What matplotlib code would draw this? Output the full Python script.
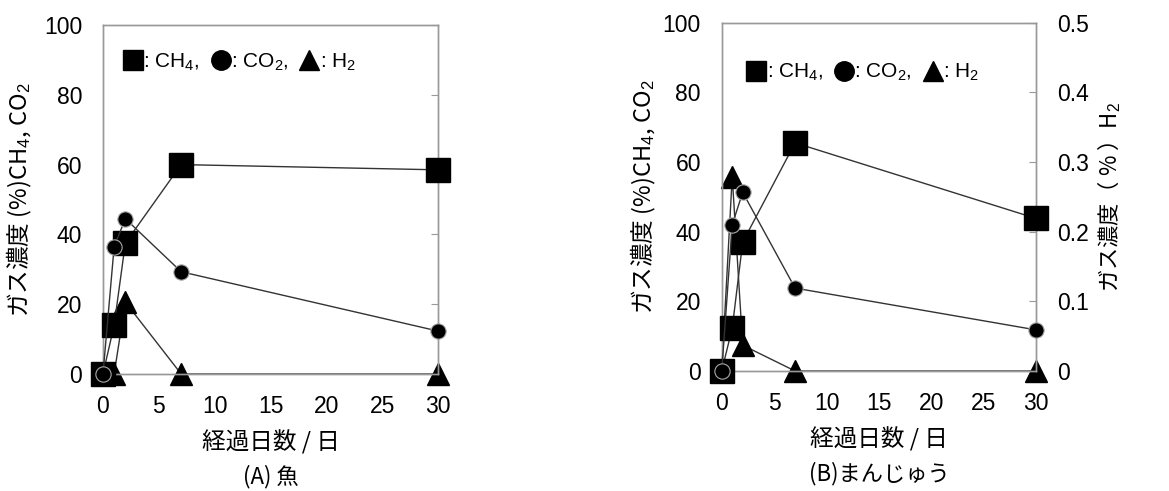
import matplotlib
matplotlib.use("Agg")
import matplotlib.pyplot as plt
from matplotlib.lines import Line2D

plt.rcParams['font.family'] = ['Liberation Sans', 'Noto Sans CJK JP', 'DejaVu Sans']
plt.rcParams['mathtext.fontset'] = 'custom'
plt.rcParams['mathtext.rm'] = 'Liberation Sans'
plt.rcParams['mathtext.it'] = 'Liberation Sans'

# 経過日数
days = [0, 1, 2, 7, 30]

# (A) 魚
fish_ch4 = [0, 14, 37.5, 60, 58.5]
fish_co2 = [0, 36.5, 44.5, 29.3, 12.3]
fish_h2 = [0, 0, 0.103, 0, 0]

# (B) まんじゅう
manju_ch4 = [0, 12.3, 37, 65.5, 43.8]
manju_co2 = [0, 42, 51.3, 23.8, 11.8]
manju_h2 = [0, 0.279, 0.037, 0, 0]

x_ticks = [0, 5, 10, 15, 20, 25, 30]
left_ticks = [0, 20, 40, 60, 80, 100]
right_ticks = [0, 0.1, 0.2, 0.3, 0.4, 0.5]
right_labels = ['0', '0.1', '0.2', '0.3', '0.4', '0.5']

JP = ['Noto Sans CJK JP', 'DejaVu Sans']
LINE = '#333333'
SPINE = '#999999'


def draw_panel(rect, ch4, co2, h2, title, show_right, legend_xy, ylab_pad):
    ax = fig.add_axes(rect)
    ax2 = ax.twinx()
    # H2 (右軸) を下に描く
    ax.set_zorder(ax2.get_zorder() + 1)
    ax.patch.set_visible(False)

    ax2.plot(days, h2, color=LINE, lw=1, marker='^', ms=16,
             mfc='black', mec='black', clip_on=False)
    ax.plot(days, ch4, color=LINE, lw=1, marker='s', ms=17,
            mfc='black', mec='black', clip_on=False, zorder=3)
    ax.plot(days, co2, color=LINE, lw=1, marker='o', ms=11,
            mfc='black', mec='#aaaaaa', mew=0.8, clip_on=False, zorder=4)

    ax.set_xlim(0, 30)
    ax.set_ylim(0, 100)
    ax2.set_ylim(0, 0.5)
    ax.set_xticks(x_ticks)
    ax.set_yticks(left_ticks)
    ax2.set_yticks(right_ticks)

    for a in (ax, ax2):
        for s in a.spines.values():
            s.set_color(SPINE)
            s.set_linewidth(1)

    ax.tick_params(axis='both', length=0, labelsize=16.5, pad=15)
    if show_right:
        ax2.set_yticklabels(right_labels)
        ax2.tick_params(axis='y', direction='in', length=5, color=SPINE,
                        labelsize=16.5, pad=15)
        ax2.set_ylabel('ガス濃度（ % ）H$_2$', family=JP, fontsize=16, labelpad=5)
    else:
        ax2.tick_params(axis='y', direction='in', length=5, color=SPINE,
                        labelright=False)

    ax.set_xlabel('経過日数 / 日', family=JP, fontsize=17, labelpad=9)
    ax.set_ylabel('ガス濃度 (%)CH$_4$, CO$_2$', family=JP, fontsize=17,
                  labelpad=ylab_pad)
    ax.text(0.5, -0.295, title, transform=ax.transAxes, ha='center', va='center',
            family=JP, fontsize=16)

    handles = [
        Line2D([], [], ls='none', marker='s', ms=14, mfc='black', mec='black'),
        Line2D([], [], ls='none', marker='o', ms=14, mfc='black', mec='black'),
        Line2D([], [], ls='none', marker='^', ms=14, mfc='black', mec='black'),
    ]
    labels = [': CH$_4$,', ': CO$_2$,', ': H$_2$']
    ax.legend(handles, labels, ncol=3, loc='center', bbox_to_anchor=legend_xy,
              frameon=False, fontsize=15, handlelength=0.8, handletextpad=0.1,
              columnspacing=0.6)
    return ax


fig = plt.figure(figsize=(11.69, 4.91), dpi=100)

draw_panel([0.0881, 0.2383, 0.2866, 0.7108], fish_ch4, fish_co2, fish_h2,
           '(A) 魚', False, (0.41, 0.894), 7)
draw_panel([0.6174, 0.2444, 0.2689, 0.7094], manju_ch4, manju_co2, manju_h2,
           '(B)まんじゅう', True, (0.452, 0.856), 3)

fig.savefig('out.png', dpi=100)
